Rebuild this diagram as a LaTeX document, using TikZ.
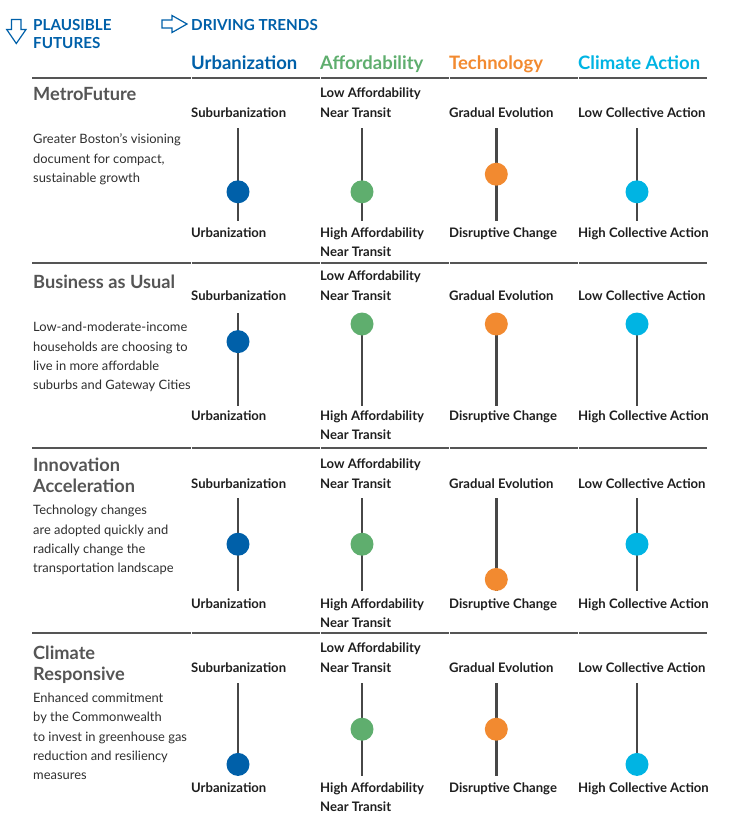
\documentclass[tikz,border=0pt]{standalone}
\usepackage{fontspec}
\setmainfont{Lato}
\definecolor{cblue}{HTML}{0060A9}
\definecolor{cgreen}{HTML}{5FAE6E}
\definecolor{corange}{HTML}{F28A30}
\definecolor{ccyan}{HTML}{00B4E3}
\definecolor{labc}{HTML}{1E1E1E}
\definecolor{ttlc}{HTML}{555555}
\definecolor{descc}{HTML}{2E2E2E}
\definecolor{barc}{HTML}{474747}
\definecolor{sepc}{HTML}{555555}
\begin{document}
\begin{tikzpicture}[x=1pt,y=-1pt,
  lab/.style={anchor=base west, inner sep=0pt, font=\fontsize{13.1}{15}\selectfont\bfseries, text=labc},
  ttl/.style={anchor=base west, inner sep=0pt, font=\fontsize{18.2}{21}\selectfont\bfseries, text=ttlc},
  desc/.style={anchor=base west, inner sep=0pt, font=\fontsize{12.9}{15}\selectfont, text=descc},
  hdr/.style={anchor=base west, inner sep=0pt, font=\fontsize{18.5}{22}\selectfont\bfseries},
  sec/.style={anchor=base west, inner sep=0pt, font=\fontsize{15.2}{18}\selectfont\bfseries, text=cblue},
  bar/.style={draw=barc, line width=2.6pt},
  dot/.style={circle, minimum size=23pt, inner sep=0pt, draw=none},
  sep/.style={draw=sepc, line width=1.3pt},
  outarrow/.style={draw=cblue, line width=1.2pt, line join=miter}
]
\useasboundingbox (0,0) rectangle (734,825);

% header arrows
\draw[outarrow] (11.5,19.5) -- (21,19.5) -- (21,29.5) -- (26,29.5) -- (16.3,43.5) -- (6.7,29.5) -- (11.5,29.5) -- cycle;
\draw[outarrow] (162,20) -- (172,20) -- (172,15.5) -- (187,24) -- (172,32.5) -- (172,28) -- (162,28) -- cycle;

\node[sec] (pf1) at (33,30) {PLAUSIBLE};
\node[sec] (pf2) at (33,48.3) {FUTURES};
\node[sec] (dt) at (191,30) {DRIVING TRENDS};

\node[hdr, text=cblue] (h1) at (191,69.3) {Urbanization};
\node[hdr, text=cgreen] (h2) at (320,69.3) {Affordability};
\node[hdr, text=corange] (h3) at (449,69.3) {Technology};
\node[hdr, text=ccyan] (h4) at (578,69.3) {Climate Action};

% separators
\foreach \y [count=\i] in {78,263,448,633} {
  \foreach \xa/\xb [count=\j] in {32/190.5, 191.5/319.5, 320.5/448.5, 449.5/577.5, 578.5/707} {
    \coordinate (sa-\i-\j) at (\xa,\y);
    \coordinate (sb-\i-\j) at (\xb,\y);
    \draw[sep] (sa-\i-\j) -- (sb-\i-\j);
  }
}

% row titles
\node[ttl] (t1) at (33,100.7) {MetroFuture};
\node[ttl] (t2) at (33,288.3) {Business as Usual};
\node[ttl] (t3a) at (33,471.3) {Innovation};
\node[ttl] (t3b) at (33,492.3) {Acceleration};
\node[ttl] (t4a) at (33,659.3) {Climate};
\node[ttl] (t4b) at (33,680) {Responsive};

% descriptions
\foreach \t [count=\i] in {Greater Boston’s visioning, {document for compact,}, sustainable growth}
  \node[desc] (d1-\i) at (33,143.7+19.3*\i-19.3) {\t};
\foreach \t [count=\i] in {Low-and-moderate-income, households are choosing to, live in more affordable, suburbs and Gateway Cities}
  \node[desc] (d2-\i) at (33,331.7+19.3*\i-19.3) {\t};
\foreach \t [count=\i] in {Technology changes, are adopted quickly and, radically change the, transportation landscape}
  \node[desc] (d3-\i) at (33,514.7+19.4*\i-19.4) {\t};
\foreach \t [count=\i] in {Enhanced commitment, by the Commonwealth, to invest in greenhouse gas, reduction and resiliency, measures}
  \node[desc] (d4-\i) at (33,702.7+19.2*\i-19.2) {\t};

% sliders
\foreach \row/\off/\lo/\ka/\kb/\kc/\kd in {1/0/0/3/3/2/3, 2/185/183/1/0/0/0, 3/370/371/2/2/4/2, 4/555/555/4/2/2/4} {
  \node[lab] (sub\row) at (191,117+\lo) {Suburbanization};
  \node[lab] (urb\row) at (191,237+\lo) {Urbanization};
  \node[lab] (la\row) at (320,97.3+\lo) {Low Affordability};
  \node[lab] (lan\row) at (320,117+\lo) {Near Transit};
  \node[lab] (ha\row) at (320,237+\lo) {High Affordability};
  \node[lab] (han\row) at (320,256.5+\lo) {Near Transit};
  \node[lab] (ge\row) at (449,117+\lo) {Gradual Evolution};
  \node[lab] (dc\row) at (449,237+\lo) {Disruptive Change};
  \node[lab] (lc\row) at (578,117+\lo) {Low Collective Action};
  \node[lab] (hc\row) at (578,237+\lo) {High Collective Action};
  \foreach \x/\k/\c/\n in {238/\ka/cblue/u, 362/\kb/cgreen/a, 496.3/\kc/corange/t, 637/\kd/ccyan/c} {
    \coordinate (\n-top-\row) at (\x,128+\off);
    \coordinate (\n-bot-\row) at (\x,221+\off);
    \draw[bar] (\n-top-\row) -- (\n-bot-\row);
    \node[dot, fill=\c] (\n-dot-\row) at (\x,139+17.6*\k+\off) {};
  }
}
\end{tikzpicture}
\end{document}
